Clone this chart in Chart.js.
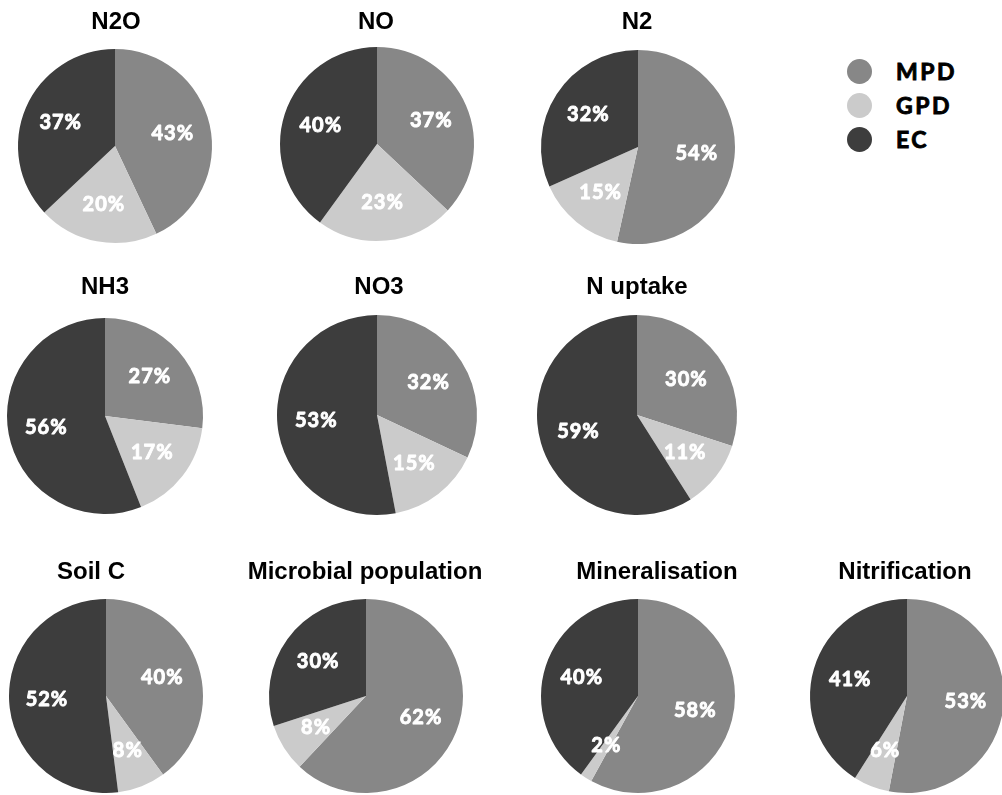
<!DOCTYPE html>
<html>
<head>
<meta charset="utf-8">
<script src="https://cdn.jsdelivr.net/npm/chart.js@4.4.1/dist/chart.umd.min.js"></script>
<style>
  html, body { margin: 0; padding: 0; background: #fff; }
  body { width: 1002px; height: 795px; overflow: hidden; position: relative; }
  canvas { position: absolute; }
  #legend { position: absolute; left: 847px; top: 54px; font: bold 23px Lato, "DejaVu Sans", sans-serif; letter-spacing: 2.5px; color: #000; -webkit-text-stroke: 0.9px #000; }
  #legend .row { display: flex; align-items: center; height: 34px; }
  #legend .dot { width: 25px; height: 25px; border-radius: 50%; margin-right: 24px; }
</style>
</head>
<body>
<div id="legend"></div>
<script>
// Panels and their shares (%) for each source
const panels = ['N2O', 'NO', 'N2', 'NH3', 'NO3', 'N uptake', 'Soil C', 'Microbial population', 'Mineralisation', 'Nitrification'];
const seriesNames = ['MPD', 'GPD', 'EC'];
const mpd = [43, 37, 54, 27, 32, 30, 40, 62, 58, 53];
const gpd = [20, 23, 15, 17, 15, 11, 8, 8, 2, 6];
const ec  = [37, 40, 32, 56, 53, 59, 52, 30, 40, 41];

const colors = ['#878787', '#cbcbcb', '#3d3d3d'];

// Pie centre, radius and title centre for each panel (page pixels)
const placement = [
  { cx: 115, cy: 146, r: 97,  tx: 116, ty: 22 },
  { cx: 377, cy: 144, r: 97,  tx: 376, ty: 22 },
  { cx: 638, cy: 147, r: 97,  tx: 637, ty: 22 },
  { cx: 105, cy: 416, r: 98,  tx: 105, ty: 287 },
  { cx: 377, cy: 415, r: 100, tx: 379, ty: 287 },
  { cx: 637, cy: 415, r: 100, tx: 637, ty: 287 },
  { cx: 106, cy: 696, r: 97,  tx: 91,  ty: 572 },
  { cx: 366, cy: 696, r: 97,  tx: 365, ty: 572 },
  { cx: 638, cy: 696, r: 97,  tx: 657, ty: 572 },
  { cx: 907, cy: 696, r: 97,  tx: 905, ty: 572 }
];

// Draws the percentage inside each slice and the panel heading
const panelText = {
  id: 'panelText',
  afterDatasetsDraw(chart, args, opts) {
    const ctx = chart.ctx;
    const meta = chart.getDatasetMeta(0);
    const values = chart.data.datasets[0].data;
    ctx.save();
    ctx.textAlign = 'center';
    ctx.textBaseline = 'middle';
    ctx.fillStyle = '#ffffff';
    ctx.strokeStyle = '#ffffff';
    ctx.lineWidth = 0.9;
    ctx.lineJoin = 'round';
    ctx.font = 'bold 20px Lato, "DejaVu Sans", sans-serif';
    ctx.letterSpacing = '1px';
    meta.data.forEach((arc, i) => {
      const p = arc.getProps(['x', 'y', 'startAngle', 'endAngle', 'outerRadius'], true);
      const mid = (p.startAngle + p.endAngle) / 2;
      const d = p.outerRadius * 0.61;
      const lx = p.x + Math.cos(mid) * d;
      const ly = p.y + Math.sin(mid) * d;
      const txt = values[i] + '%';
      ctx.strokeText(txt, lx, ly);
      ctx.fillText(txt, lx, ly);
    });
    ctx.letterSpacing = '0px';
    ctx.fillStyle = '#000000';
    ctx.font = 'bold 24px "Liberation Sans", Arial, sans-serif';
    ctx.fillText(opts.text, opts.x, opts.y);
    ctx.restore();
  }
};

const HALF_W = 135;
const TOP_GAP = 20;
const PAD_TOP = 40;

panels.forEach((name, i) => {
  const p = placement[i];
  const left = p.cx - HALF_W;
  const top = p.ty - TOP_GAP;
  const height = 2 * (p.cy - top) - PAD_TOP;
  const canvas = document.createElement('canvas');
  canvas.width = HALF_W * 2;
  canvas.height = height;
  canvas.style.left = left + 'px';
  canvas.style.top = top + 'px';
  canvas.style.width = (HALF_W * 2) + 'px';
  canvas.style.height = height + 'px';
  document.body.appendChild(canvas);

  new Chart(canvas, {
    type: 'pie',
    data: {
      labels: seriesNames,
      datasets: [{
        data: [mpd[i], gpd[i], ec[i]],
        backgroundColor: colors,
        borderWidth: 0
      }]
    },
    options: {
      responsive: false,
      animation: false,
      devicePixelRatio: 1,
      radius: p.r,
      layout: { padding: { top: PAD_TOP, left: 0, right: 0, bottom: 0 } },
      events: [],
      plugins: {
        legend: { display: false },
        tooltip: { enabled: false },
        title: { display: false },
        panelText: { text: name, x: p.tx - left, y: p.ty - top }
      }
    },
    plugins: [panelText]
  });
});

// Legend
const legend = document.getElementById('legend');
seriesNames.forEach((s, i) => {
  const row = document.createElement('div');
  row.className = 'row';
  const dot = document.createElement('div');
  dot.className = 'dot';
  dot.style.background = colors[i];
  const label = document.createElement('span');
  label.textContent = s;
  row.appendChild(dot);
  row.appendChild(label);
  legend.appendChild(row);
});
</script>
</body>
</html>
